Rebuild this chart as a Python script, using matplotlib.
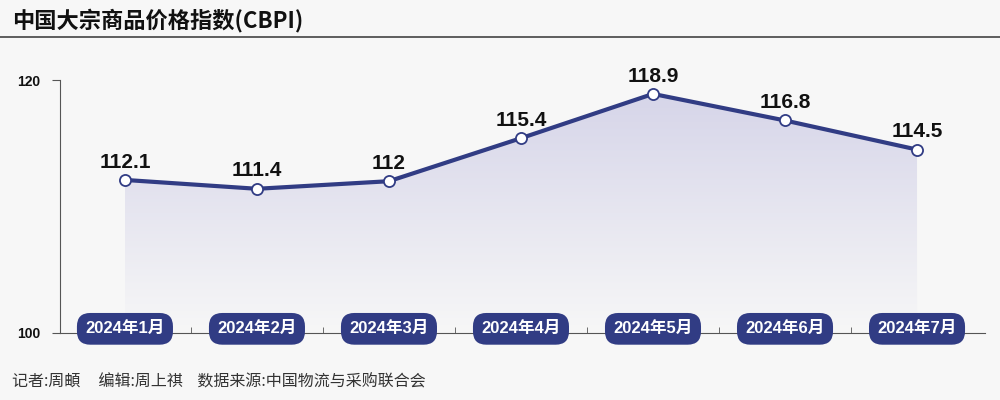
import numpy as np
import matplotlib
matplotlib.use('Agg')
import matplotlib.pyplot as plt
from matplotlib.patches import Polygon

# 数据
months = ['2024年1月', '2024年2月', '2024年3月', '2024年4月', '2024年5月', '2024年6月', '2024年7月']
values = [112.1, 111.4, 112, 115.4, 118.9, 116.8, 114.5]
value_labels = ['112.1', '111.4', '112', '115.4', '118.9', '116.8', '114.5']
y_ticks = [100, 120]

title = '中国大宗商品价格指数(CBPI)'
footer = '记者:周頔     编辑:周上祺    数据来源:中国物流与采购联合会'

navy = '#313c84'
bg = '#f7f7f7'

plt.rcParams['font.family'] = ['Noto Sans CJK SC', 'DejaVu Sans']
num_family = ['Liberation Sans', 'Noto Sans CJK SC']

fig = plt.figure(figsize=(10, 4), dpi=100, facecolor=bg)
ax = fig.add_axes([0.06, 0.1675, 0.925, 0.6325])
ax.set_facecolor(bg)

x = np.arange(len(months))

# 渐变填充
verts = [(x[0], 100)] + list(zip(x, values)) + [(x[-1], 100)]
poly = Polygon(verts, closed=True, facecolor='none', edgecolor='none')
ax.add_patch(poly)
grad = np.linspace(0, 1, 256).reshape(-1, 1)
top = np.array(matplotlib.colors.to_rgb('#d6d5e9'))
bot = np.array(matplotlib.colors.to_rgb(bg))
img = top * (1 - grad[..., None]) + bot * grad[..., None]
im = ax.imshow(img, extent=[x[0], x[-1], 100, max(values)], aspect='auto',
               origin='upper', zorder=1)
im.set_clip_path(poly)

# 折线
ax.plot(x, values, color=navy, lw=3, zorder=3, solid_capstyle='round')
ax.plot(x, values, 'o', ms=8, mfc='white', mec=navy, mew=1.3, zorder=4)

for xi, v, lab in zip(x, values, value_labels):
    ax.annotate(lab, (xi, v), xytext=(0, 6), textcoords='offset points',
                ha='center', va='bottom', fontsize=15, fontweight='bold',
                family=num_family, color='#111111', zorder=5)

# 月份标签
for xi, m in zip(x, months):
    ax.annotate(m, (xi, 100), xytext=(0, 3), textcoords='offset points',
                ha='center', va='center', fontsize=12, fontweight='bold',
                family=num_family, color='white', zorder=6, annotation_clip=False,
                bbox=dict(boxstyle='round,pad=0.5,rounding_size=0.8',
                          fc=navy, ec='none'))

ax.set_xlim(-0.492, 6.515)
ax.set_ylim(100, 120)
ax.set_yticks(y_ticks)
ax.set_yticklabels([str(t) for t in y_ticks], fontsize=10, fontweight='bold',
                   family=num_family, color='#111111')
ax.set_xticks([])
ax.set_xticks(x[:-1] + 0.5, minor=True)
ax.tick_params(axis='x', which='minor', direction='in', length=4, color='#555555')
ax.tick_params(axis='y', length=6, color='#555555', pad=8)

for s in ['top', 'right']:
    ax.spines[s].set_visible(False)
ax.spines['left'].set_color('#555555')
ax.spines['bottom'].set_color('#555555')
ax.spines['left'].set_linewidth(0.8)
ax.spines['bottom'].set_linewidth(0.8)

# 标题和分隔线
fig.text(0.012, 0.948, title, fontsize=16, fontweight='bold', va='center', ha='left',
         color='#111111')
fig.add_artist(plt.Line2D([0, 1], [0.907, 0.907], color='#444444', lw=1.2))

# 脚注
fig.text(0.012, 0.045, footer, fontsize=11.5, va='center', ha='left', color='#333333')

fig.savefig('out.png', dpi=100, facecolor=bg)
